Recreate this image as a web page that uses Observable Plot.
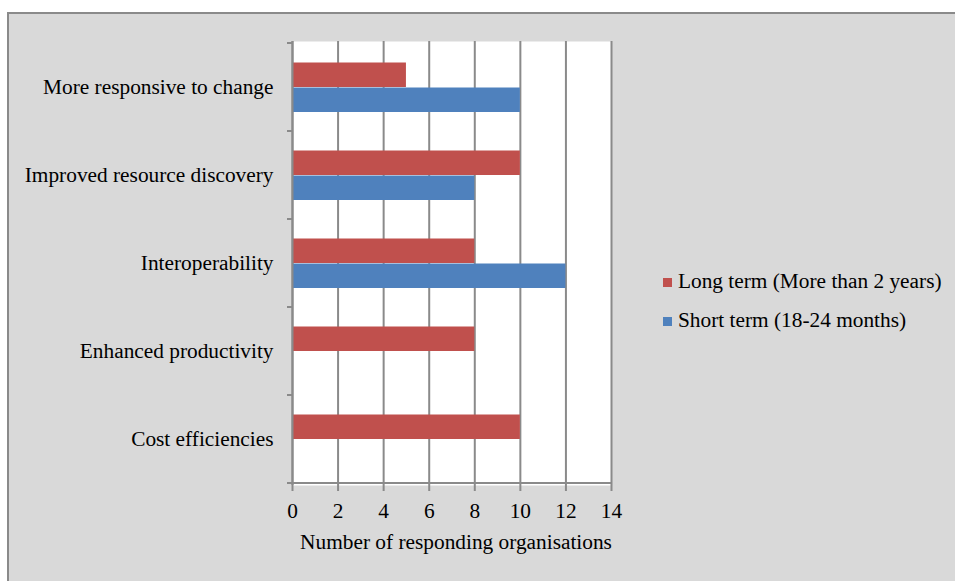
<!DOCTYPE html>
<html>
<head>
<meta charset="utf-8">
<script src="https://cdn.jsdelivr.net/npm/d3@7"></script>
<script src="https://cdn.jsdelivr.net/npm/@observablehq/plot@0.6"></script>
<style>
  html, body { margin: 0; padding: 0; background: #ffffff; }
  #page { position: relative; width: 955px; height: 581px; overflow: hidden; font-family: "Liberation Serif", "Times New Roman", serif; }
  #panel { position: absolute; left: 7px; top: 12px; width: 948px; height: 569px; box-sizing: border-box;
           background: #d9d9d9; border-left: 2px solid #8a8a8a; border-top: 2px solid #8a8a8a; }
  #chart { position: absolute; left: 0; top: 0; }
  #legend { position: absolute; left: 663px; top: 262px; font-size: 21.33px; color: #000; }
  .item { display: flex; align-items: center; height: 39px; white-space: nowrap; }
  .sw { width: 9px; height: 9px; margin-right: 6px; margin-top: 2px; }
</style>
</head>
<body>
<div id="page">
  <div id="panel"></div>
  <div id="chart"></div>
  <div id="legend"></div>
</div>
<script>
const categories = [
  "More responsive to change",
  "Improved resource discovery",
  "Interoperability",
  "Enhanced productivity",
  "Cost efficiencies"
];
const seriesNames = ["Long term (More than 2 years)", "Short term (18-24 months)"];
const longTerm = [5, 10, 8, 8, 10];
const shortTerm = [10, 8, 12, 0, 0];
const xTicks = [0, 2, 4, 6, 8, 10, 12, 14];
const colors = ["#C0504D", "#4F81BD"];

const longData = categories.map((c, i) => ({category: c, value: longTerm[i]}));
const shortData = categories.map((c, i) => ({category: c, value: shortTerm[i]})).filter(d => d.value > 0);

const gridColor = "#8a8a8a";
const fs = 21.33;

const plot = Plot.plot({
  width: 955,
  height: 581,
  marginLeft: 292,
  marginRight: 344,
  marginTop: 41,
  marginBottom: 96,
  style: {background: "transparent", fontFamily: "'Liberation Serif', 'Times New Roman', serif", fontSize: fs + "px", color: "#000", overflow: "visible"},
  x: {domain: [0, 14], ticks: xTicks},
  y: {domain: categories, padding: 0},
  marks: [
    Plot.frame({fill: "white", stroke: null}),
    Plot.gridX(xTicks, {stroke: gridColor, strokeOpacity: 1, strokeWidth: 2}),
    Plot.barX(longData, {x: "value", y: "category", fill: colors[0], insetTop: 19.5, insetBottom: 44}),
    Plot.barX(shortData, {x: "value", y: "category", fill: colors[1], insetTop: 44.5, insetBottom: 19}),
    Plot.ruleX([0], {stroke: gridColor, strokeWidth: 2}),
    Plot.axisX(xTicks, {tickSize: 6, tickPadding: 11, stroke: gridColor, strokeWidth: 2, fill: "#000", fontSize: fs, label: null}),
    Plot.axisY({tickSize: 0, tickPadding: 19, fill: "#000", fontSize: fs, label: null}),
    Plot.text(["Number of responding organisations"], {frameAnchor: "bottom", dy: 63, dx: 4, fill: "#000", fontSize: fs})
  ]
});

// band-boundary ticks on y axis and bottom axis line, from the plot's own scales
const xs = plot.scale("x");
const ys = plot.scale("y");
const svg = d3.select(plot);
const g = svg.append("g").attr("stroke", gridColor).attr("stroke-width", 2);
const x0 = xs.apply(0);
const x1 = xs.apply(14);
const bounds = categories.map(c => ys.apply(c));
bounds.push(ys.apply(categories[categories.length - 1]) + ys.bandwidth);
bounds.forEach(yv => {
  g.append("line").attr("x1", x0 - 5).attr("x2", x0).attr("y1", yv).attr("y2", yv);
});
const yb = bounds[bounds.length - 1];
g.append("line").attr("x1", x0 - 1).attr("x2", x1 + 1).attr("y1", yb).attr("y2", yb);

document.getElementById("chart").appendChild(plot);

const legend = d3.select("#legend");
seriesNames.forEach((n, i) => {
  const it = legend.append("div").attr("class", "item");
  it.append("div").attr("class", "sw").style("background", colors[i]);
  it.append("span").text(n);
});
</script>
</body>
</html>
